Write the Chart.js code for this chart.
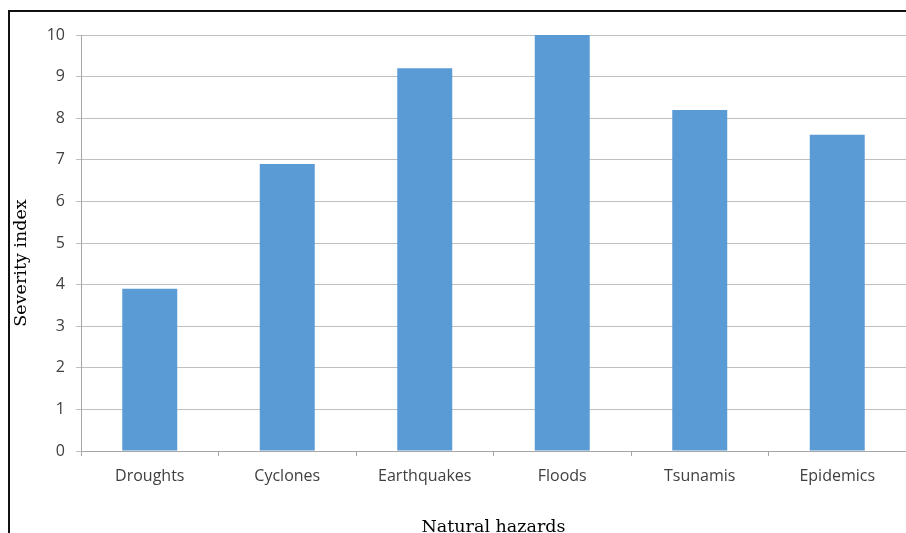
<!DOCTYPE html>
<html>
<head>
<meta charset="utf-8">
<script src="https://cdn.jsdelivr.net/npm/chart.js@4/dist/chart.umd.min.js"></script>
<style>
  html, body { margin: 0; padding: 0; background: #fff; overflow: hidden; }
  #wrap { position: relative; width: 906px; height: 533px; overflow: hidden; }
  #frame { position: absolute; left: 8px; top: 10px; width: 1000px; height: 1000px;
           border: 2px solid #111; pointer-events: none; }
  canvas { position: absolute; left: 0; top: 0; }
</style>
</head>
<body>
<div id="wrap">
  <canvas id="grafico" width="906" height="560"></canvas>
  <div id="frame"></div>
</div>
<script>
// dados
const hazards = ['Droughts', 'Cyclones', 'Earthquakes', 'Floods', 'Tsunamis', 'Epidemics'];
const severity = [3.9, 6.9, 9.2, 10, 8.2, 7.6];
const yTicks = [0, 1, 2, 3, 4, 5, 6, 7, 8, 9, 10];

const tickFont = { family: '"Open Sans", Lato, sans-serif', size: 16 };
const titleFont = { family: '"DejaVu Serif", serif', size: 17.5 };

// titulo do eixo Y desenhado a mao (fica um pouco abaixo do centro no original)
const yTitlePlugin = {
    id: 'yTitle',
    afterDraw(chart) {
        const ctx = chart.ctx;
        ctx.save();
        ctx.translate(21, 263);
        ctx.rotate(-Math.PI / 2);
        ctx.font = `${titleFont.size}px ${titleFont.family}`;
        ctx.fillStyle = '#000';
        ctx.textAlign = 'center';
        ctx.textBaseline = 'middle';
        ctx.fillText('Severity index', 0, 0);
        ctx.restore();
    }
};

new Chart(document.getElementById('grafico'), {
    type: 'bar',
    data: {
        labels: hazards,
        datasets: [{
            label: 'Severity index',
            data: severity,
            backgroundColor: '#5b9bd5',
            borderWidth: 0,
            barPercentage: 0.4,
            categoryPercentage: 1
        }]
    },
    options: {
        responsive: false,
        animation: false,
        layout: { padding: { top: 35, right: 0, bottom: 18, left: 5 } },
        plugins: {
            legend: { display: false },
            tooltip: { enabled: false }
        },
        scales: {
            x: {
                grid: { display: true, drawOnChartArea: false, offset: true, tickLength: 5, color: '#a6a6a6' },
                border: { color: '#a6a6a6' },
                ticks: { font: tickFont, color: '#404040', padding: 11, maxRotation: 0 },
                title: { display: true, text: 'Natural hazards', font: titleFont, color: '#000' },
                afterFit: s => { s.height = 91; }
            },
            y: {
                min: 0,
                max: 10,
                afterBuildTicks: s => { s.ticks = yTicks.map(v => ({ value: v })); },
                grid: { color: '#bfbfbf', tickLength: 5 },
                border: { color: '#a6a6a6' },
                ticks: { font: tickFont, color: '#404040', padding: 11 },
                afterFit: s => { s.width = 76; }
            }
        }
    },
    plugins: [yTitlePlugin]
});
</script>
</body>
</html>
